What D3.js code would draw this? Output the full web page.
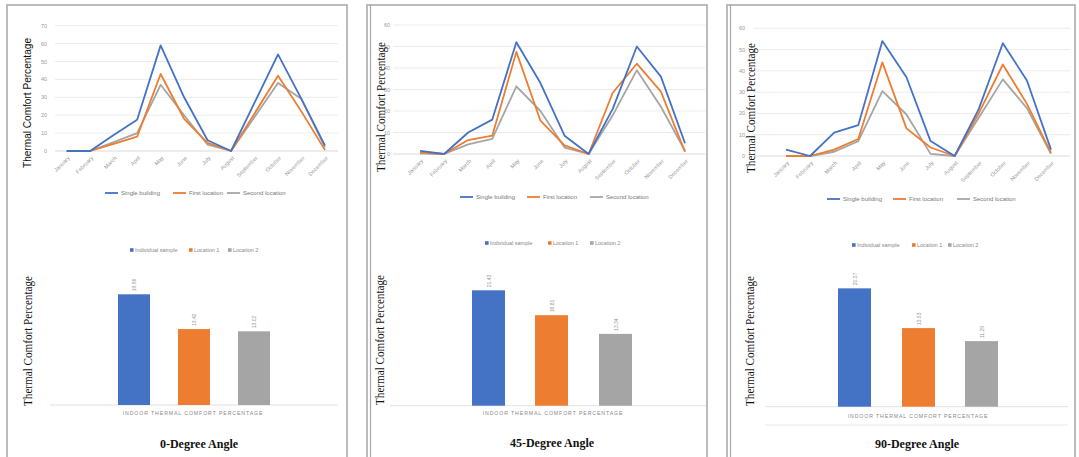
<!DOCTYPE html>
<html><head><meta charset="utf-8">
<script src="https://cdn.jsdelivr.net/npm/d3@7"></script>
<style>body{margin:0;background:#fff}svg{display:block}</style>
</head><body>
<svg id="chart" width="1079" height="457"></svg>
<script>
// ---------- DATA ----------
const months = ["January","February","March","April","May","June","July","August","September","October","November","December"];
const seriesNames = ["Single building","First location","Second location"];
const yTicks0 = [0,10,20,30,40,50,60,70];
const yTicks45 = [0,10,20,30,40,50,60];
const yTicks90 = [0,10,20,30,40,50,60];

const single0 = [0,0,9,17.5,59,30,6,0,27,54,29,3];
const first0  = [0,0,4,8,43,18,4.5,0,21,42,22,0.5];
const second0 = [0,0,5,10,37,20,3.5,0,19,38,29,2];

const single45 = [1.5,0,10,16,52,33,8.5,0,21,50,36,5];
const first45  = [0.5,0,6.5,8.5,47.5,15.5,4,0,28.5,42,29,1];
const second45 = [0.3,0,4.5,7,31.5,20,3,0,18,39,22,1.5];

const single90 = [3,0,11,14.5,54,37,7,0,22,53,35.5,3];
const first90  = [0,0,3,8,44,13,4,0,20,43,24.5,1.5];
const second90 = [0,0,2,7,30.5,19.5,1,0,18,36,22.5,1];

const barNames = ["Individual sample","Location 1","Location 2"];
const barCategory = "INDOOR THERMAL COMFORT PERCENTAGE";
const bars0 = [19.56,13.42,13.02];
const bars45 = [21.43,16.81,13.34];
const bars90 = [20.37,13.53,11.29];
const panelTitles = ["0-Degree Angle","45-Degree Angle","90-Degree Angle"];
const yTitle = "Thermal Comfort Percentage";

// ---------- STYLE / LAYOUT ----------
const colors = ["#4472C4","#ED7D31","#A5A5A5"];
const svg = d3.select("#chart");

const panels = [
  {box:[7,5,340], dbl:false, lines:[single0,first0,second0], ticks:yTicks0, yMax:70,
   xr:[66.7,325], y0:151, yTop:25.7, grid:[55,338], tickX:47, legY:193, legX:[105,173,227],
   t1:{x:26.5,y:103,font:"'Liberation Sans',Arial,sans-serif",size:11},
   bars:bars0, barX:[118,178,238], barW:32, base:405, pxPer:5.66, baseLine:[50,338], extraLine:null,
   bLegY:250, bLegX:[130,189,228], catY:413, catX:193, titleY:444, titleX:199, t2:{x:27.5,y:341}, title:panelTitles[0]},
  {box:[367,5,340], dbl:true, lines:[single45,first45,second45], ticks:yTicks45, yMax:60,
   xr:[420,685], y0:154, yTop:25, grid:[393,705], tickX:390, legY:197, legX:[460,527,590],
   t1:{x:381,y:107,font:"'Liberation Serif','Times New Roman',serif",size:12.5},
   bars:bars45, barX:[472,535,599], barW:33, base:405.7, pxPer:5.385, baseLine:[390,706], extraLine:null,
   bLegY:243, bLegX:[485,548,590], catY:413, catX:553, titleY:443, titleX:552, t2:{x:380,y:340}, title:panelTitles[1]},
  {box:[727,5,348], dbl:true, lines:[single90,first90,second90], ticks:yTicks90, yMax:60,
   xr:[786,1051], y0:156, yTop:28.3, grid:[753,1070], tickX:745, legY:199, legX:[827,893,957],
   t1:{x:751,y:108,font:"'Liberation Serif','Times New Roman',serif",size:12.5},
   bars:bars90, barX:[838,902,965], barW:33, base:406.7, pxPer:5.81, baseLine:[765,1068], extraLine:425,
   bLegY:245, bLegX:[852,912,948], catY:416, catX:918, titleY:444, titleX:917, t2:{x:750,y:341}, title:panelTitles[2]}
];

const serif = "'Liberation Serif','Times New Roman',serif";
const sans = "'Liberation Sans',Arial,sans-serif";

panels.forEach((p,pi)=>{
  const g = svg.append("g");
  // panel border
  g.append("rect").attr("x",p.box[0]).attr("y",p.box[1]).attr("width",p.box[2]).attr("height",470)
    .attr("fill","none").attr("stroke","#a6a6a6").attr("stroke-width",1.5);
  if(p.dbl){
    g.append("line").attr("x1",p.box[0]+3.5).attr("x2",p.box[0]+3.5).attr("y1",p.box[1]).attr("y2",457)
      .attr("stroke","#a6a6a6").attr("stroke-width",1.2);
  }

  // ---- line chart ----
  const x = d3.scalePoint().domain(months).range(p.xr);
  const y = d3.scaleLinear().domain([0,p.yMax]).range([p.y0,p.yTop]);
  g.append("g").selectAll("line").data(p.ticks).join("line")
    .attr("x1",p.grid[0]).attr("x2",p.grid[1])
    .attr("y1",d=>y(d)).attr("y2",d=>y(d))
    .attr("stroke",d=>d===0?"#d0d0d0":"#e6e6e6").attr("stroke-width",0.8);
  g.append("g").selectAll("text").data(p.ticks).join("text")
    .attr("x",p.tickX).attr("y",d=>y(d)).attr("text-anchor","end").attr("dominant-baseline","central")
    .attr("font-family",sans).attr("font-size",5.5).attr("fill","#999").text(d=>d);
  g.append("g").selectAll("text").data(months).join("text")
    .attr("transform",d=>`translate(${x(d)+2},${p.y0+6}) rotate(-45)`)
    .attr("text-anchor","end").attr("dominant-baseline","central")
    .attr("font-family",sans).attr("font-size",5.5).attr("fill","#999").text(d=>d);
  const line = d3.line().x((d,i)=>x(months[i])).y(d=>y(d));
  [2,1,0].forEach(si=>{
    g.append("path").datum(p.lines[si]).attr("d",line).attr("fill","none")
      .attr("stroke",colors[si]).attr("stroke-width",1.8).attr("stroke-linejoin","round");
  });
  seriesNames.forEach((n,si)=>{
    g.append("line").attr("x1",p.legX[si]).attr("x2",p.legX[si]+13).attr("y1",p.legY).attr("y2",p.legY)
      .attr("stroke",colors[si]).attr("stroke-width",1.8);
    g.append("text").attr("x",p.legX[si]+16).attr("y",p.legY).attr("dominant-baseline","central")
      .attr("font-family",sans).attr("font-size",6).attr("fill","#777").text(n);
  });
  g.append("text").attr("transform",`translate(${p.t1.x},${p.t1.y}) rotate(-90)`)
    .attr("text-anchor","middle").attr("dominant-baseline","central")
    .attr("font-family",p.t1.font).attr("font-size",p.t1.size).attr("fill","#111")
    .attr("textLength",130).attr("lengthAdjust","spacingAndGlyphs").text(yTitle);

  // ---- bar chart ----
  const bx = d3.scaleOrdinal().domain(barNames).range(p.barX);
  const by = d3.scaleLinear().domain([0,25]).range([p.base,p.base-25*p.pxPer]);
  g.append("line").attr("x1",p.baseLine[0]).attr("x2",p.baseLine[1]).attr("y1",p.base).attr("y2",p.base)
    .attr("stroke","#d9d9d9").attr("stroke-width",0.8);
  if(p.extraLine){
    g.append("line").attr("x1",p.baseLine[0]).attr("x2",p.baseLine[1]).attr("y1",p.extraLine).attr("y2",p.extraLine)
      .attr("stroke","#e3e3e3").attr("stroke-width",0.8);
  }
  g.append("g").selectAll("rect").data(p.bars).join("rect")
    .attr("x",(d,i)=>bx(barNames[i])).attr("width",p.barW)
    .attr("y",d=>by(d)).attr("height",d=>by(0)-by(d))
    .attr("fill",(d,i)=>colors[i]);
  g.append("g").selectAll("text").data(p.bars).join("text")
    .attr("transform",(d,i)=>`translate(${bx(barNames[i])+p.barW/2},${by(d)-3}) rotate(-90)`)
    .attr("text-anchor","start").attr("dominant-baseline","central")
    .attr("font-family",sans).attr("font-size",5).attr("fill","#999").text(d=>d.toFixed(2));
  barNames.forEach((n,i)=>{
    g.append("rect").attr("x",p.bLegX[i]).attr("y",p.bLegY-1.8).attr("width",3.6).attr("height",3.6).attr("fill",colors[i]);
    g.append("text").attr("x",p.bLegX[i]+5).attr("y",p.bLegY).attr("dominant-baseline","central")
      .attr("font-family",sans).attr("font-size",5.5).attr("fill","#888").text(n);
  });
  g.append("text").attr("x",p.catX).attr("y",p.catY).attr("text-anchor","middle").attr("dominant-baseline","central")
    .attr("font-family",sans).attr("font-size",5.2).attr("letter-spacing",0.9).attr("fill","#888").text(barCategory);
  g.append("text").attr("transform",`translate(${p.t2.x},${p.t2.y}) rotate(-90)`)
    .attr("text-anchor","middle").attr("dominant-baseline","central")
    .attr("font-family",serif).attr("font-size",12.5).attr("fill","#111")
    .attr("textLength",130).attr("lengthAdjust","spacingAndGlyphs").text(yTitle);
  g.append("text").attr("x",p.titleX).attr("y",p.titleY).attr("text-anchor","middle").attr("dominant-baseline","central")
    .attr("font-family",serif).attr("font-size",12).attr("font-weight","bold").attr("fill","#111").text(p.title);
});
</script>
</body></html>
